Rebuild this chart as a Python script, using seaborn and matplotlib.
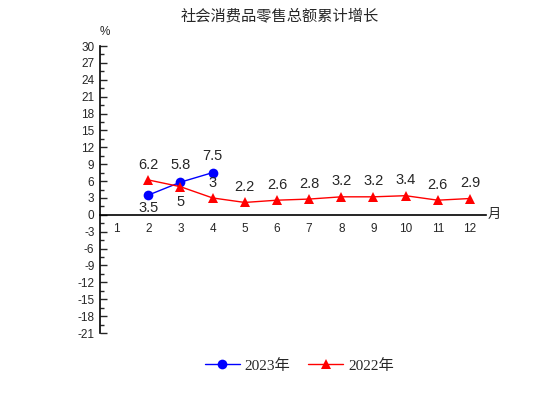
import matplotlib
matplotlib.use("Agg")
import matplotlib.pyplot as plt
import seaborn as sns
import pandas as pd
from matplotlib.ticker import MultipleLocator

months = list(range(1, 13))
month_labels = [str(m) for m in months]
m2023 = [2, 3, 4]
v2023 = [3.5, 5.8, 7.5]
m2022 = [2, 3, 4, 5, 6, 7, 8, 9, 10, 11, 12]
v2022 = [6.2, 5, 3, 2.2, 2.6, 2.8, 3.2, 3.2, 3.4, 2.6, 2.9]
series = ["2023年", "2022年"]

df = pd.concat([
    pd.DataFrame({"月": m2023, "增长": v2023, "年份": series[0]}),
    pd.DataFrame({"月": m2022, "增长": v2022, "年份": series[1]}),
])

sns.set_style("white")
plt.rcParams["font.family"] = ["Liberation Sans", "Noto Sans CJK SC"]
plt.rcParams["axes.unicode_minus"] = False

fig = plt.figure(figsize=(5.54, 3.99), dpi=100)
ax = fig.add_axes([0.1805, 0.1654, 0.6968, 0.7193])

sns.lineplot(data=df, x="月", y="增长", hue="年份", style="年份",
             palette={"2023年": "#0000ff", "2022年": "#ff0000"},
             markers={"2023年": "o", "2022年": "^"}, dashes=False,
             markersize=7, markeredgewidth=0, linewidth=1, ax=ax)

# 數據標籤
for x, y in zip(m2023, v2023):
    below = (x == 2)
    ax.annotate(f"{y:g}", (x, y), xytext=(0, -4 if below else 7),
                textcoords="offset points", ha="center",
                va="top" if below else "bottom", fontsize=10.5)
for x, y in zip(m2022, v2022):
    below = (x == 3)
    ax.annotate(f"{y:g}", (x, y), xytext=(0, -6 if below else 6),
                textcoords="offset points", ha="center",
                va="top" if below else "bottom", fontsize=10.5)

ax.set_xlim(0.5, 12.5)
ax.set_ylim(-21, 30)
ax.spines["top"].set_visible(False)
ax.spines["right"].set_visible(False)
ax.spines["bottom"].set_position(("data", 0))
for s in ("left", "bottom"):
    ax.spines[s].set_linewidth(1.2)
    ax.spines[s].set_color("black")

ax.set_xticks(months)
ax.set_xticklabels(month_labels)
ax.set_xticks([m + 0.5 for m in months], minor=True)
ax.tick_params(axis="x", which="major", length=0, pad=6, labelsize=8.5)
ax.tick_params(axis="x", which="minor", direction="in", length=5, width=1)

ax.yaxis.set_major_locator(MultipleLocator(3))
ax.yaxis.set_minor_locator(MultipleLocator(1.5))
ax.tick_params(axis="y", which="major", direction="in", length=5, width=1,
               labelsize=8.5, pad=4, left=True)
ax.tick_params(axis="y", which="minor", direction="in", length=3, width=1, left=True)

ax.set_xlabel("")
ax.set_ylabel("")
ax.text(1.005, 0, "月", transform=ax.get_yaxis_transform(), ha="left",
        va="center", fontsize=9.5, family=["Noto Sans CJK SC"])
ax.text(0.5, 31.5, "%", ha="left", va="bottom", fontsize=8.5)

fig.text(0.505, 0.96, "社会消费品零售总额累计增长", ha="center", va="center",
         fontsize=11, family=["Noto Sans CJK SC"])

handles, labels = ax.get_legend_handles_labels()
ax.legend_.remove()
fig.legend(handles, labels, loc="center", bbox_to_anchor=(0.54, 0.083), ncol=2,
           frameon=False, handlelength=2.3, columnspacing=1.2, handletextpad=0.3,
           prop={"family": ["Liberation Serif", "Noto Sans CJK SC"], "size": 11})

fig.savefig("out.png", dpi=100)
